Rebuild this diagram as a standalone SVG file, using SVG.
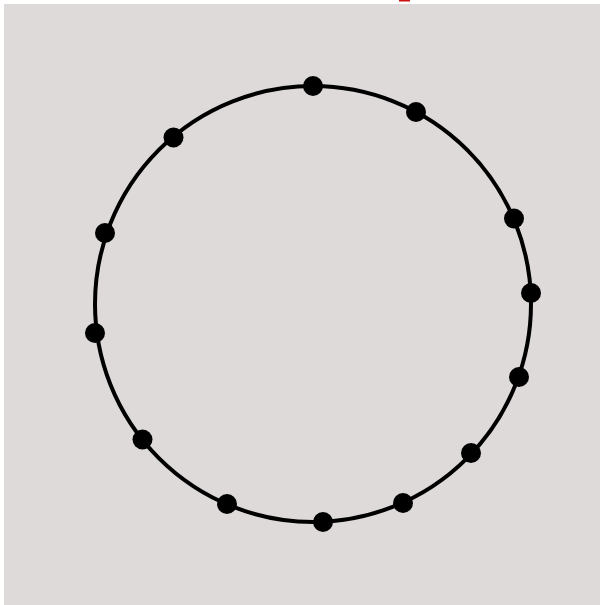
<svg xmlns="http://www.w3.org/2000/svg" width="600" height="605" viewBox="0 0 600 605">
<style>
.ring{fill:none;stroke:#000;stroke-width:4}
.dot{fill:#000}
</style>
<rect x="0" y="0" width="600" height="605" fill="#ffffff"/>
<rect x="4" y="4" width="596" height="601" fill="#dfdada"/>
<rect x="399" y="0" width="11" height="1.5" fill="#cc1111"/>
<g id="connectors">
<circle class="ring" cx="313" cy="304" r="218"/>
</g>
<g id="n1"><circle class="dot" cx="313" cy="86" r="10"/></g>
<g id="n2"><circle class="dot" cx="416" cy="112" r="10"/></g>
<g id="n3"><circle class="dot" cx="514" cy="218.5" r="10"/></g>
<g id="n4"><circle class="dot" cx="531" cy="293" r="10"/></g>
<g id="n5"><circle class="dot" cx="519" cy="377" r="10"/></g>
<g id="n6"><circle class="dot" cx="471" cy="453" r="10"/></g>
<g id="n7"><circle class="dot" cx="403" cy="503" r="10"/></g>
<g id="n8"><circle class="dot" cx="323" cy="522" r="10"/></g>
<g id="n9"><circle class="dot" cx="227" cy="504" r="10"/></g>
<g id="n10"><circle class="dot" cx="142.5" cy="439.5" r="10"/></g>
<g id="n11"><circle class="dot" cx="95" cy="333" r="10"/></g>
<g id="n12"><circle class="dot" cx="105" cy="233" r="10"/></g>
<g id="n13"><circle class="dot" cx="173.5" cy="137.5" r="10"/></g>
</svg>
